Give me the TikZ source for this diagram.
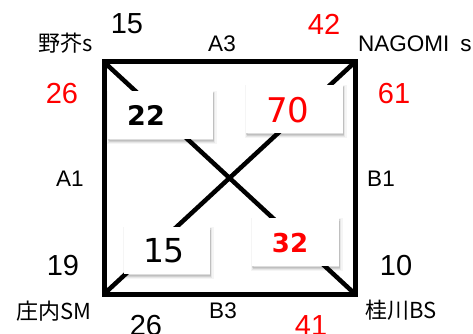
\documentclass[tikz,border=0pt]{standalone}
\usepackage{fontspec}
\setmainfont{Liberation Sans}
\newfontfamily\jpfont{Noto Sans CJK JP}
\newfontfamily\numfont{DejaVu Sans}
\tikzset{
  x=1pt, y=-1pt,
  edge/.style={line width=5pt, line cap=rect},
  diag/.style={line width=4.5pt},
  valbox/.style={fill=white, draw=none, inner sep=0pt,
    preaction={draw=black, line width=5pt, draw opacity=0.04, fill=black, fill opacity=0.04, transform canvas={xshift=1pt, yshift=-2.5pt}},
    preaction={draw=black, line width=2.5pt, draw opacity=0.06, fill=black, fill opacity=0.06, transform canvas={xshift=1pt, yshift=-2.5pt}},
    preaction={draw=black, line width=0.6pt, draw opacity=0.08, transform canvas={xshift=0.5pt, yshift=-1.5pt}}},
  lbl/.style={inner sep=0pt, font=\fontsize{22.5}{24}\selectfont},
  jlbl/.style={inner sep=0pt, font=\jpfont\fontsize{22}{24}\selectfont},
  num/.style={inner sep=0pt, font=\fontsize{29}{32}\selectfont},
  thin/.style={inner sep=0pt, font=\fontsize{29}{32}\selectfont},
}
\begin{document}
\begin{tikzpicture}
\useasboundingbox (0,0) rectangle (473,334);
\fill[white] (0,0) rectangle (473,334);
% corners
\coordinate (tl) at (104,62);
\coordinate (tr) at (355,62);
\coordinate (bl) at (104,294);
\coordinate (br) at (355,294);
\draw[diag] (tl) -- (br);
\draw[diag] (tr) -- (bl);
\draw[edge] (tl) -- (tr) -- (br) -- (bl) -- cycle;
% boxes
\node[valbox, minimum width=105pt, minimum height=48pt] (b22) at (160.5,115) {};
\node[font=\numfont\bfseries\fontsize{27}{30}\selectfont, inner sep=0pt] at (146,115) {22};
\node[valbox, minimum width=97pt, minimum height=48pt] (b70) at (294.5,109) {};
\node[font=\numfont\fontsize{34}{36}\selectfont, text=red, inner sep=0pt] at (288,110) {70};
\node[valbox, minimum width=86pt, minimum height=47pt] (b15) at (167,250.5) {};
\node[font=\numfont\fontsize{33}{36}\selectfont, inner sep=0pt] at (164,251) {15};
\node[valbox, minimum width=87pt, minimum height=48pt] (b32) at (295.5,242) {};
\node[font=\numfont\bfseries\fontsize{26}{28}\selectfont, text=red, inner sep=0pt] at (290,243) {32};
% labels
\node[jlbl] (n1) at (66,43) {野芥s};
\node[thin] (t15) at (127,24) {15};
\node[lbl] (a3) at (222,44) {A3};
\node[thin, text=red] (t42) at (324,24) {42};
\node[lbl, anchor=west] (ng) at (358,44) {NAGOMI\hspace{11pt}s};
\node[num, text=red] (r26) at (62,94) {26};
\node[num, text=red] (r61) at (394,94) {61};
\node[lbl] (a1) at (70,179) {A1};
\node[lbl] (b1) at (381,179) {B1};
\node[num] (n19) at (63,266) {19};
\node[num] (n10) at (396,266) {10};
\node[jlbl] (sh) at (54,311) {庄内SM};
\node[lbl] (b3) at (223,311) {B3};
\node[jlbl] (kb) at (401,310) {桂川BS};
\node[num] (n26b) at (146,326) {26};
\node[num, text=red] (n41) at (311,326) {41};
\end{tikzpicture}
\end{document}
